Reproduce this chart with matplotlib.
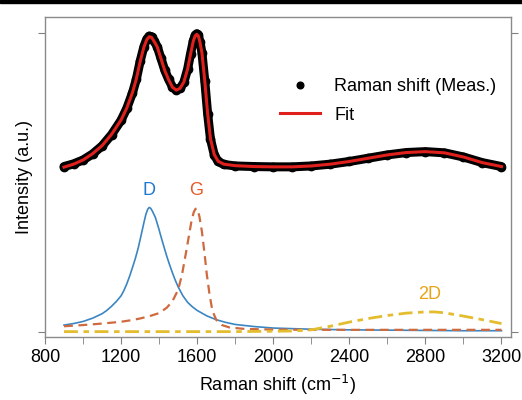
import matplotlib
matplotlib.use("Agg")
import matplotlib.pyplot as plt
from matplotlib.patches import Rectangle
from matplotlib.ticker import MultipleLocator

plt.rcParams['font.family'] = ['Liberation Sans', 'DejaVu Sans']

# measured spectrum (offset) and fit
meas_x = [900, 950, 1000, 1050, 1100, 1150, 1200, 1230, 1260, 1280, 1300, 1320, 1335, 1348,
          1360, 1375, 1390, 1410, 1430, 1450, 1470, 1490, 1510, 1530, 1550, 1565, 1580, 1590,
          1598, 1606, 1615, 1625, 1640, 1655, 1670, 1690, 1710, 1740, 1800, 1900, 2000, 2100,
          2200, 2300, 2400, 2500, 2600, 2700, 2800, 2900, 3000, 3100, 3200]
meas_y = [0.553, 0.562, 0.575, 0.595, 0.622, 0.660, 0.708, 0.748, 0.800, 0.845, 0.905, 0.955,
          0.980, 0.990, 0.988, 0.972, 0.955, 0.915, 0.875, 0.845, 0.820, 0.810, 0.815, 0.835,
          0.880, 0.930, 0.975, 0.993, 0.998, 0.993, 0.970, 0.935, 0.840, 0.730, 0.645, 0.592,
          0.570, 0.560, 0.555, 0.553, 0.552, 0.552, 0.555, 0.561, 0.570, 0.581, 0.592, 0.600,
          0.603, 0.599, 0.585, 0.566, 0.553]
fit_y = [0.551, 0.561, 0.575, 0.596, 0.623, 0.661, 0.709, 0.749, 0.801, 0.846, 0.904, 0.953,
         0.978, 0.988, 0.986, 0.971, 0.954, 0.914, 0.874, 0.844, 0.819, 0.809, 0.815, 0.836,
         0.880, 0.929, 0.974, 0.991, 0.996, 0.991, 0.969, 0.934, 0.840, 0.731, 0.646, 0.593,
         0.571, 0.561, 0.556, 0.553, 0.552, 0.552, 0.555, 0.561, 0.570, 0.581, 0.592, 0.600,
         0.603, 0.599, 0.585, 0.566, 0.553]

# fitted components
d_x = [900, 950, 1000, 1050, 1100, 1125, 1150, 1175, 1200, 1215, 1230, 1245, 1260, 1275,
       1290, 1305, 1320, 1330, 1340, 1348, 1356, 1365, 1380, 1395, 1410, 1425, 1440, 1455,
       1470, 1485, 1500, 1525, 1550, 1575, 1600, 1650, 1700, 1750, 1800, 1900, 2000, 2200,
       2400, 2600, 2800, 3000, 3200]
d_y = [0.022, 0.027, 0.034, 0.045, 0.060, 0.071, 0.085, 0.101, 0.120, 0.138, 0.160, 0.186,
       0.215, 0.245, 0.280, 0.322, 0.365, 0.392, 0.410, 0.416, 0.413, 0.403, 0.383, 0.352,
       0.318, 0.285, 0.253, 0.224, 0.197, 0.172, 0.150, 0.120, 0.098, 0.083, 0.071, 0.053,
       0.040, 0.031, 0.024, 0.017, 0.012, 0.008, 0.006, 0.005, 0.004, 0.003, 0.003]

g_x = [900, 1000, 1100, 1200, 1260, 1300, 1350, 1400, 1440, 1470, 1500, 1520, 1540, 1555,
       1570, 1582, 1591, 1597, 1604, 1612, 1625, 1640, 1650, 1665, 1680, 1700, 1730, 1770,
       1850, 2000, 2200, 2500, 2800, 3200]
g_y = [0.018, 0.022, 0.027, 0.033, 0.039, 0.044, 0.052, 0.062, 0.080, 0.102, 0.140, 0.190,
       0.260, 0.315, 0.370, 0.400, 0.411, 0.413, 0.406, 0.385, 0.335, 0.255, 0.195, 0.125,
       0.070, 0.040, 0.022, 0.014, 0.009, 0.007, 0.006, 0.006, 0.006, 0.006]

d2_x = [900, 1200, 1500, 1800, 2100, 2200, 2300, 2400, 2500, 2600, 2700, 2800, 2850, 2900,
        3000, 3100, 3200]
d2_y = [0.0, 0.0, 0.0, 0.0, 0.002, 0.006, 0.018, 0.032, 0.044, 0.054, 0.062, 0.066, 0.066,
        0.063, 0.052, 0.040, 0.027]

fig = plt.figure(figsize=(5.22, 4), dpi=100)
ax = fig.add_axes([45 / 522, 1 - 337 / 400, 466 / 522, 320 / 400])

# dense measured points drawn as a thick band of dots
ax.plot(meas_x, meas_y, color='black', lw=6.5, solid_capstyle='round', zorder=2)
ax.plot(meas_x, meas_y, 'o', color='black', ms=6, zorder=2, label='Raman shift (Meas.)')
ax.plot(meas_x, fit_y, color='#e0201c', lw=2.2, zorder=3, label='Fit')

ax.plot(d_x, d_y, color='#3b86c2', lw=1.2)
ax.plot(g_x, g_y, color='#cf6a3f', lw=1.6, dashes=(4, 2.5))
ax.plot(d2_x, d2_y, color='#e3bd2e', lw=2, dashes=(5, 2, 2, 2))

ax.text(1348, 0.445, 'D', color='#1f78cf', fontsize=13, ha='center', va='bottom')
ax.text(1597, 0.445, 'G', color='#e45a26', fontsize=13, ha='center', va='bottom')
ax.text(2820, 0.095, '2D', color='#e8a317', fontsize=13, ha='center', va='bottom')

ax.set_xlim(800, 3250)
ax.set_ylim(-0.018, 1.054)
ax.xaxis.set_major_locator(MultipleLocator(400))
ax.xaxis.set_minor_locator(MultipleLocator(200))
ax.set_yticks([0, 1])
ax.set_yticklabels([])
ax.tick_params(axis='x', which='both', direction='out', length=5, color='#808080',
               labelsize=13, top=False)
ax.tick_params(axis='y', direction='out', length=5, color='#808080', left=True, right=True)
for s in ax.spines.values():
    s.set_color('#8a8a8a')
    s.set_linewidth(1)

ax.set_xlabel('Raman shift (cm$^{-1}$)', fontsize=13, labelpad=5)
ax.set_ylabel('Intensity (a.u.)', fontsize=13, labelpad=0)

leg = ax.legend(loc='upper left', bbox_to_anchor=(0.47, 0.86), frameon=False, fontsize=13,
                handlelength=2.2, handletextpad=0.8, labelspacing=0.65, markerscale=0.8)

fig.add_artist(Rectangle((0, 1 - 3 / 400), 1, 3 / 400, transform=fig.transFigure,
                         color='black'))

fig.savefig('out.png', dpi=100)
